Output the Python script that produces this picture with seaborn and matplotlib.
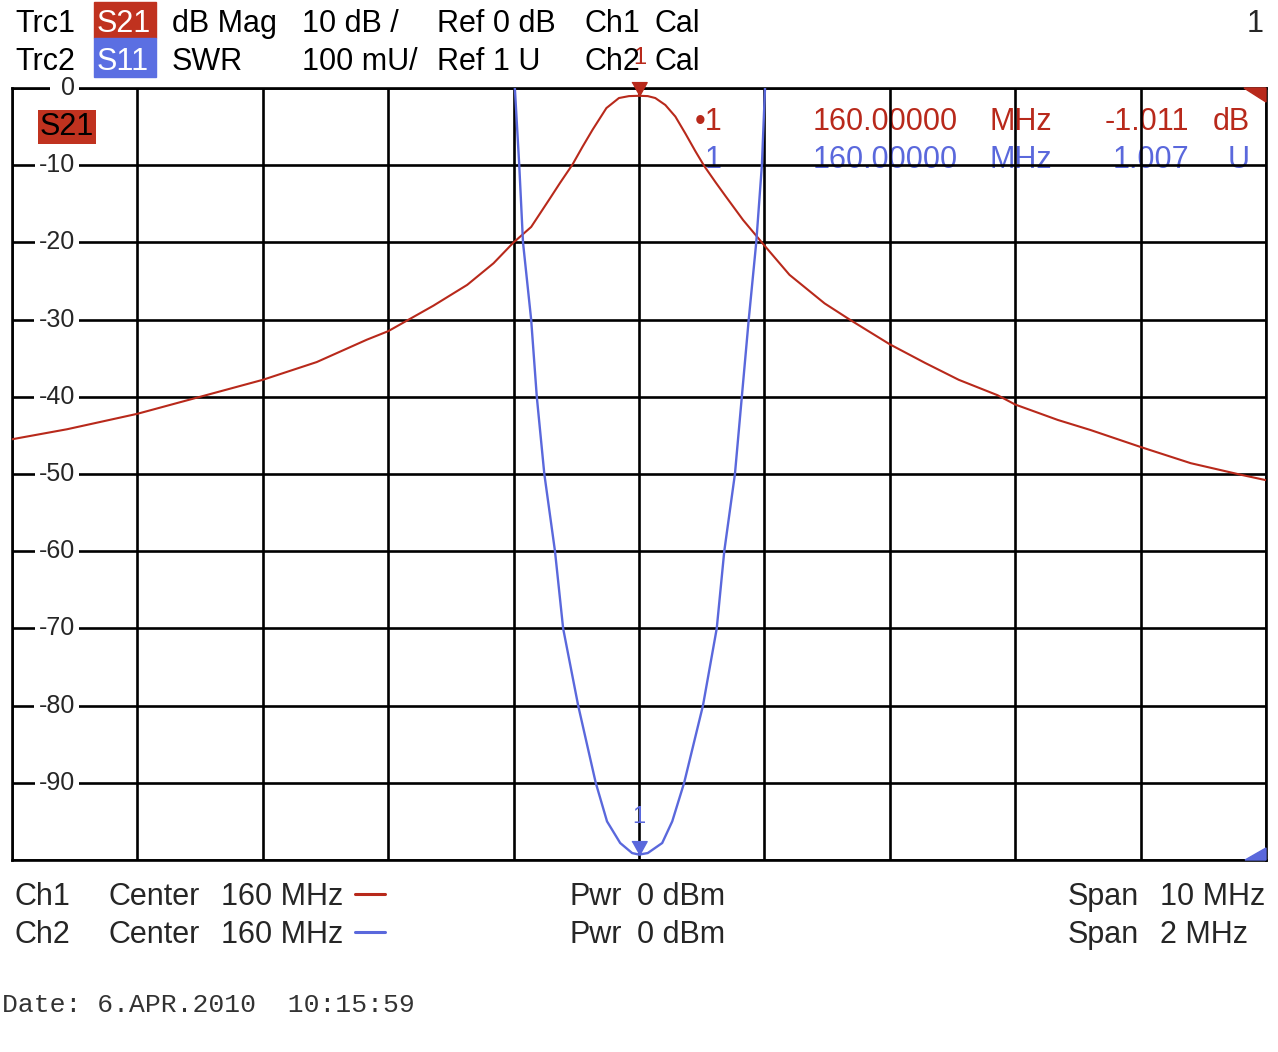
import numpy as np
import pandas as pd
import matplotlib
matplotlib.use("Agg")
import matplotlib.pyplot as plt
import matplotlib.transforms as mtransforms
from matplotlib.lines import Line2D
from matplotlib.patches import Rectangle, Polygon
import seaborn as sns

# --- trace data ---
# Trc1: S21, dB Mag, Ch1 center 160 MHz, span 10 MHz
s21_freq = [155.0, 155.44, 156.0, 156.5, 157.0, 157.43, 157.83, 158.0, 158.36, 158.63,
            158.84, 159.0, 159.14, 159.29, 159.37, 159.47, 159.55, 159.63, 159.74, 159.84,
            159.92, 160.0, 160.07, 160.13, 160.21, 160.29, 160.37, 160.45, 160.52, 160.61,
            160.69, 160.83, 161.0, 161.2, 161.48, 161.69, 162.0, 162.28, 162.55, 162.86,
            163.0, 163.34, 163.6, 164.0, 164.4, 164.8, 165.0]
s21_db = [-45.5, -44.2, -42.2, -40.0, -37.8, -35.5, -32.6, -31.5, -28.2, -25.5,
          -22.7, -20.0, -18.0, -14.3, -12.3, -9.9, -7.6, -5.4, -2.6, -1.3,
          -1.05, -1.01, -1.05, -1.3, -2.2, -3.7, -5.9, -8.2, -10.1, -12.2,
          -14.0, -17.1, -20.4, -24.2, -27.9, -30.1, -33.2, -35.6, -37.8, -39.8,
          -41.0, -43.0, -44.3, -46.5, -48.6, -50.1, -50.8]

# Trc2: S11, SWR, Ch2 center 160 MHz, span 2 MHz
s11_freq = [159.790, 159.802, 159.809, 159.815, 159.828, 159.837, 159.849, 159.866, 159.879,
            159.903, 159.931, 159.949, 159.970, 159.989, 160.000, 160.014, 160.037, 160.053,
            160.072, 160.102, 160.124, 160.136, 160.153, 160.164, 160.175, 160.187, 160.196,
            160.201, 160.210]
s11_swr = [2.15, 2.0, 1.9, 1.8, 1.7, 1.6, 1.5, 1.4, 1.3,
           1.2, 1.1, 1.05, 1.022, 1.009, 1.007, 1.009, 1.022, 1.05,
           1.1, 1.2, 1.3, 1.4, 1.5, 1.6, 1.7, 1.8, 1.9,
           2.0, 2.15]

# marker 1 readout
marker_freq = 160.0
marker_s21 = -1.011
marker_swr = 1.007

db_ticks = [0, -10, -20, -30, -40, -50, -60, -70, -80, -90]

RED = "#b8291b"
BLUE = "#5a68dc"
RED_BOX = "#c0321f"
BLUE_BOX = "#5b6fe2"

sns.set_style("white")
plt.rcParams["font.family"] = ["Liberation Sans", "DejaVu Sans"]

W, H = 1278, 1052
fig = plt.figure(figsize=(W / 100, H / 100), dpi=100)


def fx(px):
    return px / W


def fy(py):
    return 1 - py / H


rect = [fx(12), fy(860), fx(1266) - fx(12), fy(88) - fy(860)]
ax = fig.add_axes(rect)

df1 = pd.DataFrame({"freq": s21_freq, "db": s21_db})
sns.lineplot(data=df1, x="freq", y="db", ax=ax, color=RED, lw=1.5, legend=False, zorder=3)
ax.set_xlim(155, 165)
ax.set_ylim(-100, 0)
ax.set_xticks(np.linspace(155, 165, 11))
ax.set_yticks(np.linspace(-100, 0, 11))
ax.tick_params(length=0, labelbottom=False, labelleft=False)
ax.set_xlabel("")
ax.set_ylabel("")
ax.set_axisbelow(False)
ax.grid(True, color="black", lw=1.9)
for sp in ax.spines.values():
    sp.set_color("black")
    sp.set_linewidth(1.9)

# y labels sit inside the grid
ylab_tr = mtransforms.blended_transform_factory(fig.transFigure, ax.transData)
for v in db_ticks:
    lbl = " " + str(v) if v == 0 else str(v)
    ax.text(fx(75), v, lbl, transform=ylab_tr, ha="right", va="center", fontsize=18,
            zorder=5, bbox=dict(facecolor="white", edgecolor="none", pad=3))

# S21 tag in plot
ax.text(fx(40), fy(135), "S21", transform=fig.transFigure, fontsize=22, color="black",
        zorder=5, bbox=dict(facecolor=RED_BOX, edgecolor="none", pad=1.5))

# marker readouts (under the grid like on the screen)
rows = [(130, RED, "\u20221", "-1.011", "dB", marker_freq),
        (168, BLUE, "1", "1.007", "U", marker_freq)]
for base, col, tag, val, unit, f in rows:
    ax.text(fx(722), fy(base), tag, transform=fig.transFigure, ha="right", fontsize=22, color=col, zorder=1)
    ax.text(fx(813), fy(base), f"{f:.5f}", transform=fig.transFigure, fontsize=22, color=col, zorder=1)
    ax.text(fx(990), fy(base), "MHz", transform=fig.transFigure, fontsize=22, color=col, zorder=1)
    ax.text(fx(1189), fy(base), val, transform=fig.transFigure, ha="right", fontsize=22, color=col, zorder=1)
    ax.text(fx(1250), fy(base), unit, transform=fig.transFigure, ha="right", fontsize=22, color=col, zorder=1)

tri = [(-0.55, 1.0), (0.55, 1.0), (0.0, 0.0)]
ax.plot([marker_freq], [marker_s21], marker=tri, ms=20, color=RED, ls="none", clip_on=False, zorder=6)
ax.annotate("1", (marker_freq, marker_s21), xytext=(0.5, 27), textcoords="offset points",
            ha="center", va="center", fontsize=17, color=RED, annotation_clip=False, zorder=6)

# corner markers
ax.add_patch(Polygon([(1, 1), (1 - 22 / 1254, 1), (1, 1 - 14 / 772)], closed=True,
                     transform=ax.transAxes, color=RED, clip_on=False, zorder=6))
ax.add_patch(Polygon([(1, 0), (1 - 21 / 1254, 0), (1, 12 / 772)], closed=True,
                     transform=ax.transAxes, color=BLUE, clip_on=False, zorder=6))

# second trace on its own scale
ax2 = fig.add_axes(rect)
ax2.patch.set_alpha(0)
df2 = pd.DataFrame({"freq": s11_freq, "swr": s11_swr})
sns.lineplot(data=df2, x="freq", y="swr", ax=ax2, color=BLUE, lw=1.7, legend=False)
ax2.set_xlim(159, 161)
ax2.set_ylim(1.0, 2.0)
ax2.axis("off")
ax2.plot([marker_freq], [marker_swr], marker=tri, ms=20, color=BLUE, ls="none", clip_on=False)
ax2.annotate("1", (marker_freq, marker_swr), xytext=(0, 27), textcoords="offset points",
             ha="center", va="center", fontsize=17, color=BLUE)

# header
fig.patches.append(Rectangle((fx(94), fy(38)), fx(156) - fx(94), fy(2) - fy(38),
                             transform=fig.transFigure, color=RED_BOX, zorder=0))
fig.patches.append(Rectangle((fx(94), fy(77)), fx(156) - fx(94), fy(38) - fy(77),
                             transform=fig.transFigure, color=BLUE_BOX, zorder=0))
hdr = [(32, ["Trc1", "S21", "dB Mag", "10 dB /", "Ref 0 dB", "Ch1", "Cal"]),
       (70, ["Trc2", "S11", "SWR", "100 mU/", "Ref 1 U", "Ch2", "Cal"])]
xs = [15, 97, 172, 302, 437, 584, 655]
for base, words in hdr:
    for x, w in zip(xs, words):
        c = "white" if w in ("S21", "S11") else "black"
        fig.text(fx(x), fy(base), w, fontsize=22, color=c, va="baseline")
fig.text(fx(1264), fy(32), "1", fontsize=22, ha="right", va="baseline")

# footer
foot = [(905, "Ch1", "10 MHz", RED, 894), (943, "Ch2", "2 MHz", BLUE, 932)]
for base, ch, span, col, ly in foot:
    fig.text(fx(15), fy(base), ch, fontsize=22, va="baseline")
    fig.text(fx(108), fy(base), "Center", fontsize=22, va="baseline")
    fig.text(fx(221), fy(base), "160 MHz", fontsize=22, va="baseline")
    fig.add_artist(Line2D([fx(355), fx(385)], [fy(ly), fy(ly)], color=col, lw=2.2))
    fig.text(fx(570), fy(base), "Pwr", fontsize=22, va="baseline")
    fig.text(fx(637), fy(base), "0 dBm", fontsize=22, va="baseline")
    fig.text(fx(1068), fy(base), "Span", fontsize=22, va="baseline")
    fig.text(fx(1160), fy(base), span, fontsize=22, va="baseline")

fig.text(fx(2), fy(1012), "Date: 6.APR.2010  10:15:59", fontsize=19, va="baseline",
         family=["Liberation Mono", "DejaVu Sans Mono"], color="#333333")

fig.savefig("out.png", dpi=100, facecolor="white")
